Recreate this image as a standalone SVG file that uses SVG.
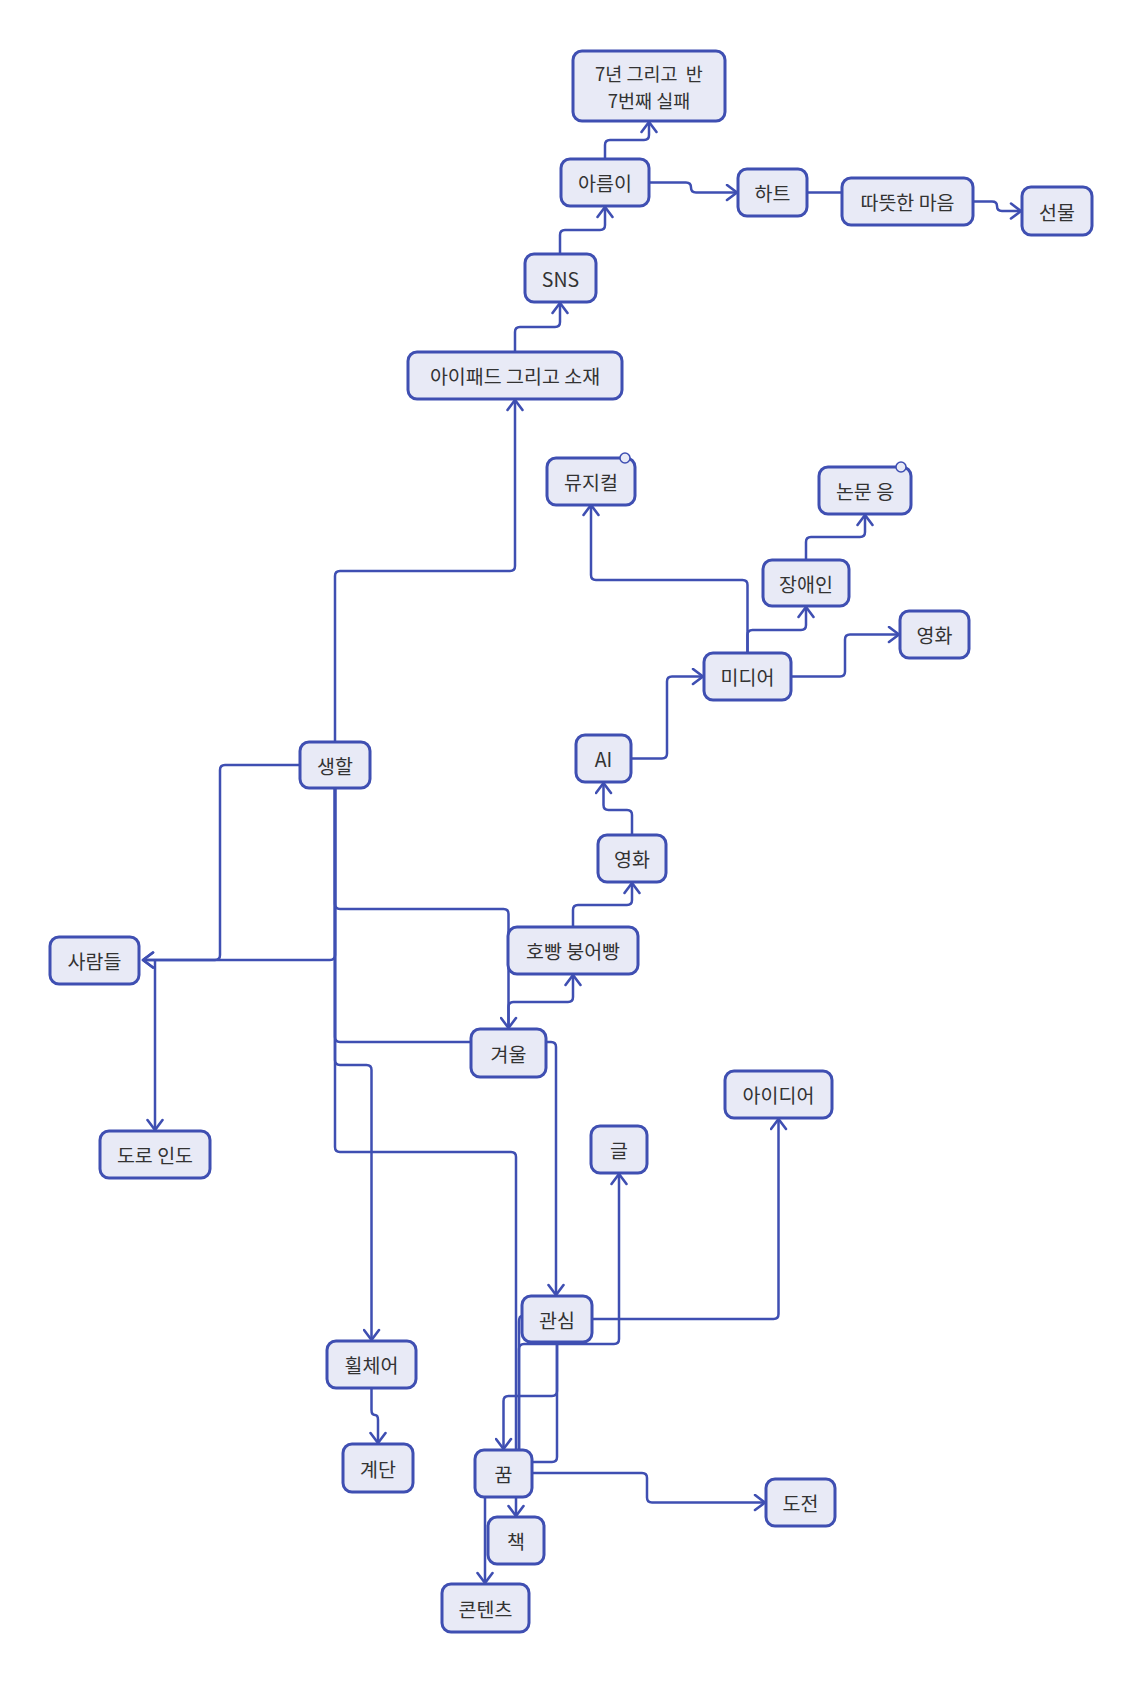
<svg xmlns="http://www.w3.org/2000/svg" width="1143" height="1683" viewBox="0 0 1143 1683">
<defs>
<style>
.node rect{fill:#e8eaf6;stroke:#3f4fb2;stroke-width:3}
.node text{font-family:"Noto Sans CJK KR","Noto Sans",sans-serif;font-size:19.5px;fill:#333;text-anchor:middle;dominant-baseline:central}
.node text.two{font-size:18.5px}
.edge{fill:none;stroke:#3f4fb2;stroke-width:2.5;stroke-linejoin:round}
.arr{marker-end:url(#chev)}
.dot{fill:#e8eaf6;stroke:#3f4fb2;stroke-width:1.5}
</style>
<marker id="chev" viewBox="0 0 16 18" refX="13" refY="9" markerWidth="16" markerHeight="18" markerUnits="userSpaceOnUse" orient="auto">
<path d="M3,1.5 L13,9 L3,16.5" fill="none" stroke="#3f4fb2" stroke-width="2.6" stroke-linecap="round" stroke-linejoin="round"/>
</marker>
</defs>
<rect width="1143" height="1683" fill="#ffffff"/>
<g id="connectors">
<path class="edge arr" d="M515,352 V332 Q515,327 520,327 H555 Q560,327 560,322 V303"/>
<path class="edge arr" d="M560,254 V235 Q560,230 565,230 H600 Q605,230 605,225 V207"/>
<path class="edge arr" d="M605,159 V145 Q605,140 610,140 H644 Q649,140 649,135 V122"/>
<path class="edge arr" d="M649,182.5 H686 Q691,182.5 691,187.5 Q691,192.5 696,192.5 H737"/>
<path class="edge" d="M807,192.5 H842"/>
<path class="edge arr" d="M973,201.5 H992 Q997,201.5 997,206 Q997,211 1002,211 H1021"/>
<path class="edge arr" d="M335,742 V576 Q335,571 340,571 H510 Q515,571 515,566 V400"/>
<path class="edge arr" d="M747.5,653 V585 Q747.5,580 742.5,580 H596 Q591,580 591,575 V505"/>
<path class="edge arr" d="M747.5,653 V635 Q747.5,630 752.5,630 H801 Q806,630 806,625 V607"/>
<path class="edge arr" d="M806,560 V542 Q806,537 811,537 H860 Q865,537 865,532 V515"/>
<path class="edge arr" d="M791,676.5 H840 Q845,676.5 845,671.5 V639.5 Q845,634.5 850,634.5 H899"/>
<path class="edge arr" d="M631,758.5 H662 Q667,758.5 667,753.5 V681.5 Q667,676.5 672,676.5 H703"/>
<path class="edge arr" d="M632,835 V815 Q632,810 627,810 H608.5 Q603.5,810 603.5,805 V783"/>
<path class="edge arr" d="M573,927 V910 Q573,905 578,905 H627 Q632,905 632,900 V883"/>
<path class="edge arr" d="M300,765 H225 Q220,765 220,770 V955 Q220,960 215,960 H143"/>
<path class="edge arr" d="M335,788 V955 Q335,960 330,960 H143"/>
<path class="edge arr" d="M155,960 V1130"/>
<path class="edge arr" d="M335,788 V904 Q335,909 340,909 H503.5 Q508.5,909 508.5,914 V1028"/>
<path class="edge arr" d="M508.5,1029 V1007 Q508.5,1002 513.5,1002 H568 Q573,1002 573,997 V975"/>
<path class="edge arr" d="M335,788 V1037 Q335,1042 340,1042 H551 Q556,1042 556,1047 V1295"/>
<path class="edge arr" d="M335,788 V1060 Q335,1065 340,1065 H366.5 Q371.5,1065 371.5,1070 V1340"/>
<path class="edge arr" d="M335,788 V1147 Q335,1152 340,1152 H511 Q516,1152 516,1157 V1516"/>
<path class="edge arr" d="M371.5,1388 V1410 Q371.5,1415 375,1415 Q378,1415 378,1420 V1443"/>
<path class="edge" d="M522,1316 Q519,1316 519,1322 V1450"/>
<path class="edge arr" d="M519,1450 V1349 Q519,1344 524,1344 H614 Q619,1344 619,1339 V1174"/>
<path class="edge arr" d="M592,1319 H773.5 Q778.5,1319 778.5,1314 V1119"/>
<path class="edge arr" d="M557,1342 V1391 Q557,1396 552,1396 H508.5 Q503.5,1396 503.5,1401 V1449"/>
<path class="edge" d="M532,1462 H552 Q557,1462 557,1457 V1342"/>
<path class="edge arr" d="M532,1473 H642 Q647,1473 647,1478 V1497.5 Q647,1502.5 652,1502.5 H765"/>
<path class="edge arr" d="M485,1497 V1583"/>
</g>
<g id="n-7years" class="node"><rect x="573" y="51" width="152" height="70" rx="9"/><text class="two" x="649" y="72.5" xml:space="preserve">7년 그리고  반</text><text class="two" x="649" y="99.5">7번째 실패</text></g>
<g id="n-areumi" class="node"><rect x="561" y="159" width="88" height="47" rx="9"/><text x="605" y="182.5">아름이</text></g>
<g id="n-heart" class="node"><rect x="738" y="169" width="69" height="47" rx="9"/><text x="772.5" y="192.5">하트</text></g>
<g id="n-warm" class="node"><rect x="842" y="178" width="131" height="47" rx="9"/><text x="907.5" y="201.5">따뜻한 마음</text></g>
<g id="n-gift" class="node"><rect x="1022" y="187" width="70" height="48" rx="9"/><text x="1057" y="211">선물</text></g>
<g id="n-sns" class="node"><rect x="525" y="254" width="71" height="48" rx="9"/><text x="560.5" y="278">SNS</text></g>
<g id="n-ipad" class="node"><rect x="408" y="352" width="214" height="47" rx="9"/><text x="515" y="375.5">아이패드 그리고 소재</text></g>
<g id="n-musical" class="node"><rect x="547" y="458" width="88" height="47" rx="9"/><text x="591" y="481.5">뮤지컬</text><circle class="dot" cx="625" cy="458" r="5"/></g>
<g id="n-paper" class="node"><rect x="819" y="467" width="92" height="47" rx="9"/><text x="865" y="490.5">논문 응</text><circle class="dot" cx="901" cy="467" r="5"/></g>
<g id="n-disabled" class="node"><rect x="763" y="560" width="86" height="46" rx="9"/><text x="806" y="583">장애인</text></g>
<g id="n-movie1" class="node"><rect x="900" y="611" width="69" height="47" rx="9"/><text x="934.5" y="634.5">영화</text></g>
<g id="n-media" class="node"><rect x="704" y="653" width="87" height="47" rx="9"/><text x="747.5" y="676.5">미디어</text></g>
<g id="n-ai" class="node"><rect x="576" y="735" width="55" height="47" rx="9"/><text x="603.5" y="758.5">AI</text></g>
<g id="n-life" class="node"><rect x="300" y="742" width="70" height="46" rx="9"/><text x="335" y="765">생할</text></g>
<g id="n-movie2" class="node"><rect x="598" y="835" width="68" height="47" rx="9"/><text x="632" y="858.5">영화</text></g>
<g id="n-bread" class="node"><rect x="508" y="927" width="130" height="47" rx="9"/><text x="573" y="950.5">호빵 붕어빵</text></g>
<g id="n-people" class="node"><rect x="50" y="937" width="89" height="47" rx="9"/><text x="94.5" y="960.5">사람들</text></g>
<g id="n-winter" class="node"><rect x="471" y="1029" width="75" height="48" rx="9"/><text x="508.5" y="1053">겨울</text></g>
<g id="n-idea" class="node"><rect x="725" y="1071" width="107" height="47" rx="9"/><text x="778.5" y="1094.5">아이디어</text></g>
<g id="n-writing" class="node"><rect x="591" y="1126" width="56" height="47" rx="9"/><text x="619" y="1149.5">글</text></g>
<g id="n-road" class="node"><rect x="100" y="1131" width="110" height="47" rx="9"/><text x="155" y="1154.5">도로 인도</text></g>
<g id="n-interest" class="node"><rect x="522" y="1296" width="70" height="46" rx="9"/><text x="557" y="1319">관심</text></g>
<g id="n-wheelchair" class="node"><rect x="327" y="1341" width="89" height="47" rx="9"/><text x="371.5" y="1364.5">휠체어</text></g>
<g id="n-stairs" class="node"><rect x="343" y="1444" width="70" height="48" rx="9"/><text x="378" y="1468">계단</text></g>
<g id="n-dream" class="node"><rect x="475" y="1450" width="57" height="47" rx="9"/><text x="503.5" y="1473.5">꿈</text></g>
<g id="n-challenge" class="node"><rect x="766" y="1479" width="69" height="47" rx="9"/><text x="800.5" y="1502.5">도전</text></g>
<g id="n-book" class="node"><rect x="488" y="1517" width="56" height="47" rx="9"/><text x="516" y="1540.5">책</text></g>
<g id="n-content" class="node"><rect x="442" y="1584" width="87" height="48" rx="9"/><text x="485.5" y="1608">콘텐츠</text></g>
</svg>
